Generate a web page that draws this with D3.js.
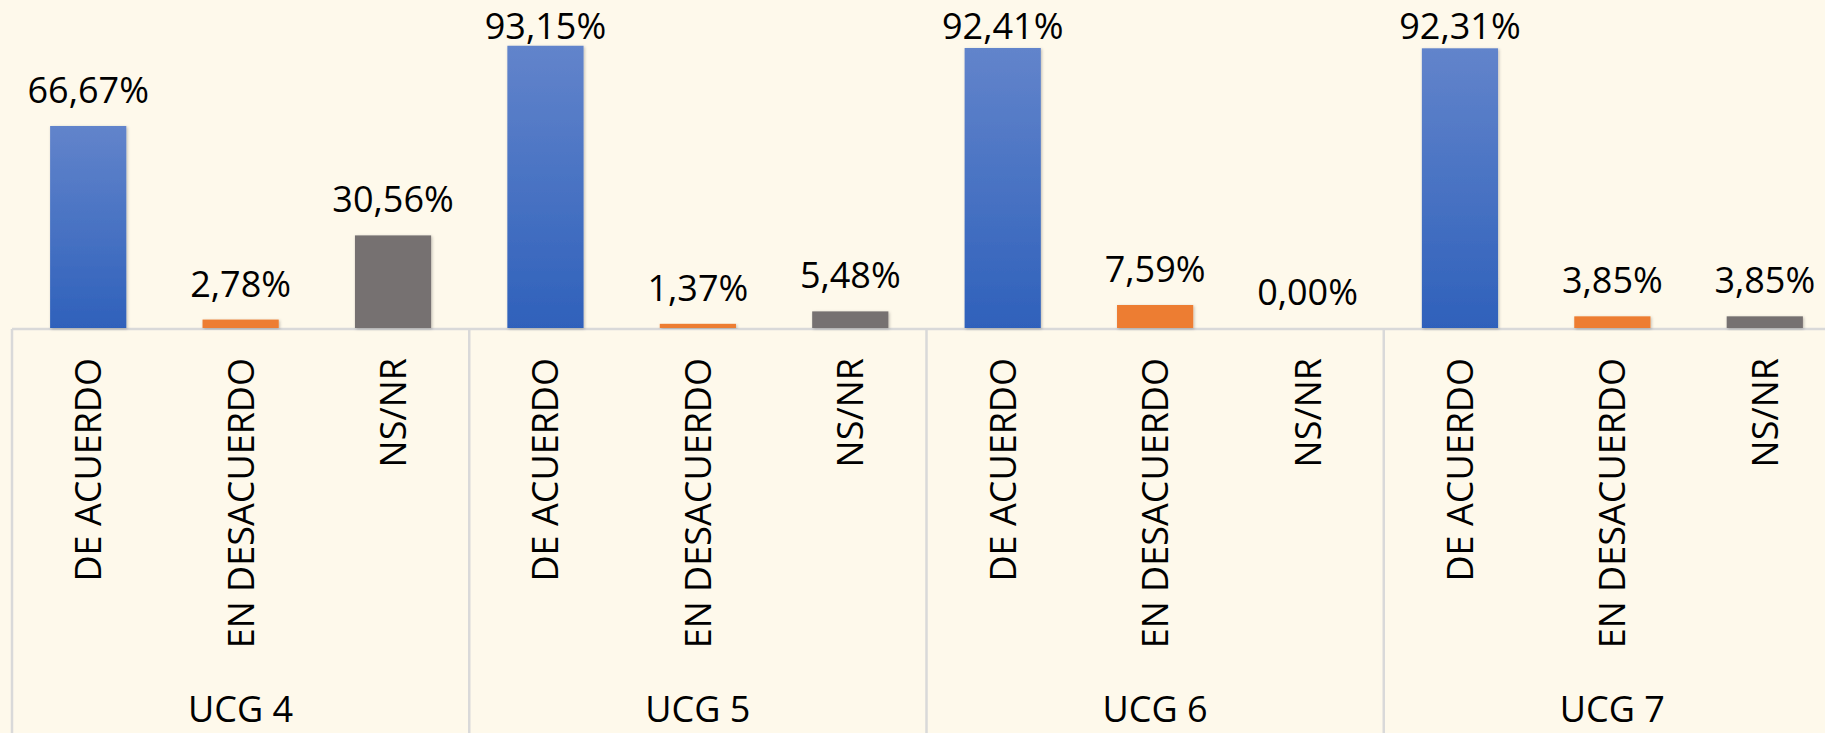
<!DOCTYPE html>
<html>
<head>
<meta charset="utf-8">
<script src="https://cdn.jsdelivr.net/npm/d3@7"></script>
<style>
  html, body { margin: 0; padding: 0; background: #fef9eb; overflow: hidden; }
  text { font-family: "Open Sans", sans-serif; fill: #000; }
</style>
</head>
<body>
<div id="chart"></div>
<script>
// data
var groups = ['UCG 4', 'UCG 5', 'UCG 6', 'UCG 7'];
var categories = ['DE ACUERDO', 'EN DESACUERDO', 'NS/NR'];
var deAcuerdo = [66.67, 93.15, 92.41, 92.31];
var enDesacuerdo = [2.78, 1.37, 7.59, 3.85];
var nsnr = [30.56, 5.48, 0.00, 3.85];
var colors = ['url(#blueGrad)', '#ed7d31', '#767171'];

var series = [deAcuerdo, enDesacuerdo, nsnr];
var data = [];
groups.forEach(function(g, gi) {
  categories.forEach(function(c, ci) {
    data.push({ group: g, cat: c, ci: ci, value: series[ci][gi] });
  });
});

var W = 1825, H = 733;
var axisY = 329;

var svg = d3.select('#chart').append('svg')
  .attr('width', W)
  .attr('height', H);

var defs = svg.append('defs');
var grad = defs.append('linearGradient')
  .attr('id', 'blueGrad')
  .attr('x1', 0).attr('y1', 0).attr('x2', 0).attr('y2', 1);
grad.append('stop').attr('offset', '0%').attr('stop-color', '#6284cb');
grad.append('stop').attr('offset', '100%').attr('stop-color', '#2f61bb');

var shadow = defs.append('filter').attr('id', 'shadow')
  .attr('x', '-20%').attr('y', '-20%').attr('width', '140%').attr('height', '140%');
shadow.append('feDropShadow')
  .attr('dx', 1).attr('dy', 1).attr('stdDeviation', 1.5)
  .attr('flood-color', '#000').attr('flood-opacity', 0.25);

// scales
var x0 = d3.scaleBand()
  .domain(groups)
  .range([12, 1841])
  .paddingInner(0).paddingOuter(0);

var x1 = d3.scaleBand()
  .domain(categories)
  .range([0, x0.bandwidth()])
  .paddingInner(0.5).paddingOuter(0.25);

var y = d3.scaleLinear()
  .domain([0, 100])
  .range([328, 25]);

// axis line and group separators
svg.append('line')
  .attr('x1', 12).attr('x2', 1841)
  .attr('y1', axisY).attr('y2', axisY)
  .attr('stroke', '#d9d9d9').attr('stroke-width', 2.5);

var bounds = groups.map(function(g) { return x0(g); }).concat([x0.range()[1]]);
svg.selectAll('.sep')
  .data(bounds)
  .enter().append('line')
  .attr('class', 'sep')
  .attr('x1', function(d) { return d; })
  .attr('x2', function(d) { return d; })
  .attr('y1', axisY).attr('y2', H)
  .attr('stroke', '#d9d9d9').attr('stroke-width', 2.5);

// bars
var g = svg.selectAll('.grp')
  .data(groups)
  .enter().append('g')
  .attr('class', 'grp')
  .attr('transform', function(d) { return 'translate(' + x0(d) + ',0)'; });

g.selectAll('rect')
  .data(function(d) { return data.filter(function(r) { return r.group === d; }); })
  .enter().append('rect')
  .attr('x', function(d) { return x1(d.cat); })
  .attr('width', x1.bandwidth())
  .attr('y', function(d) { return y(d.value); })
  .attr('height', function(d) { return y(0) - y(d.value); })
  .attr('fill', function(d) { return colors[d.ci]; })
  .attr('filter', 'url(#shadow)');

// value labels (kept inside the top edge, like the original)
g.selectAll('.val')
  .data(function(d) { return data.filter(function(r) { return r.group === d; }); })
  .enter().append('text')
  .attr('class', 'val')
  .attr('x', function(d) { return x1(d.cat) + x1.bandwidth() / 2; })
  .attr('y', function(d) { return Math.max(y(d.value) - 23, 39); })
  .attr('text-anchor', 'middle')
  .style('font-size', '36px')
  .text(function(d) { return d.value.toFixed(2).replace('.', ',') + '%'; });

// category labels (rotated)
g.selectAll('.cat')
  .data(function(d) { return data.filter(function(r) { return r.group === d; }); })
  .enter().append('text')
  .attr('class', 'cat')
  .attr('transform', function(d) {
    return 'translate(' + (x1(d.cat) + x1.bandwidth() / 2) + ',358) rotate(-90)';
  })
  .attr('dy', '0.36em')
  .attr('text-anchor', 'end')
  .style('font-size', '36px')
  .text(function(d) { return d.cat; });

// group labels
g.append('text')
  .attr('x', x0.bandwidth() / 2)
  .attr('y', 722)
  .attr('text-anchor', 'middle')
  .style('font-size', '36px')
  .text(function(d) { return d; });
</script>
</body>
</html>
